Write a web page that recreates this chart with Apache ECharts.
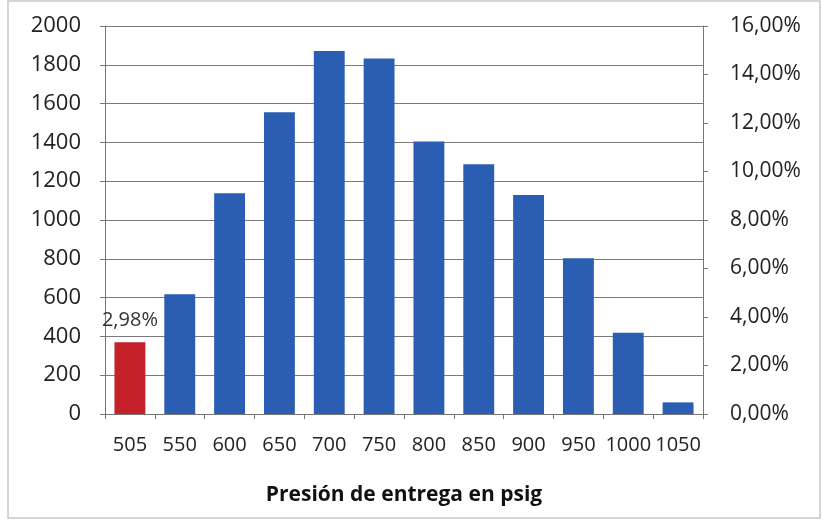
<!DOCTYPE html>
<html><head><meta charset="utf-8">
<script src="https://cdn.jsdelivr.net/npm/echarts@6/dist/echarts.min.js"></script>
<style>html,body{margin:0;padding:0;background:#fff}#c{width:823px;height:523px}</style>
</head><body><div id="c"></div>
<script>
const categories = ['505','550','600','650','700','750','800','850','900','950','1000','1050'];
const counts = [370, 617, 1138, 1555, 1871, 1833, 1404, 1287, 1129, 803, 419, 60];
const highlightIndex = 0;
const highlightLabel = '2,98%';
const leftTicks = {min: 0, max: 2000, interval: 200};
const rightTicks = {min: 0, max: 16, interval: 2};
const xTitle = 'Presión de entrega en psig';

const FONT = 'Open Sans';
const chart = echarts.init(document.getElementById('c'), null, {renderer: 'canvas'});
chart.setOption({
  backgroundColor: '#fff',
  animation: false,
  graphic: [{type: 'rect', shape: {x: 8, y: 1, width: 812, height: 517}, style: {fill: 'none', stroke: '#c8c8c8', lineWidth: 1.5}}],
  grid: {left: 105, right: 120, top: 26, bottom: 109, outerBoundsMode: 'none', containLabel: false},
  xAxis: {
    type: 'category', data: categories,
    name: xTitle, nameLocation: 'middle', nameGap: 71,
    nameTextStyle: {fontFamily: FONT, fontSize: 21, fontWeight: 'bold', color: '#111'},
    axisLine: {lineStyle: {color: '#777'}},
    axisTick: {show: true, length: 5, lineStyle: {color: '#777'}},
    axisLabel: {fontFamily: FONT, fontSize: 20, color: '#222', margin: 21, interval: 0}
  },
  yAxis: [{
    type: 'value', min: leftTicks.min, max: leftTicks.max, interval: leftTicks.interval,
    axisLine: {show: true, lineStyle: {color: '#777'}},
    axisTick: {show: true, length: 5, lineStyle: {color: '#777'}},
    splitLine: {lineStyle: {color: '#7a7a7a', width: 1}},
    axisLabel: {fontFamily: FONT, fontSize: 22, color: '#222', margin: 24, formatter: v => String(v)}
  }, {
    type: 'value', min: rightTicks.min, max: rightTicks.max, interval: rightTicks.interval,
    position: 'right',
    axisLine: {show: true, lineStyle: {color: '#777'}},
    axisTick: {show: true, length: 5, lineStyle: {color: '#777'}},
    splitLine: {show: false},
    axisLabel: {fontFamily: FONT, fontSize: 21, color: '#222', margin: 27,
      formatter: v => v.toFixed(2).replace('.', ',') + '%'}
  }],
  series: [{
    type: 'bar', barCategoryGap: '38%',
    data: counts.map((v, i) => i === highlightIndex ? {
      value: v, itemStyle: {color: '#c4212b'},
      label: {show: true, position: 'top', distance: 12, formatter: highlightLabel,
        fontFamily: FONT, fontSize: 20, color: '#333'}
    } : {value: v}),
    itemStyle: {color: '#2b5eb3'}
  }]
});
</script></body></html>
